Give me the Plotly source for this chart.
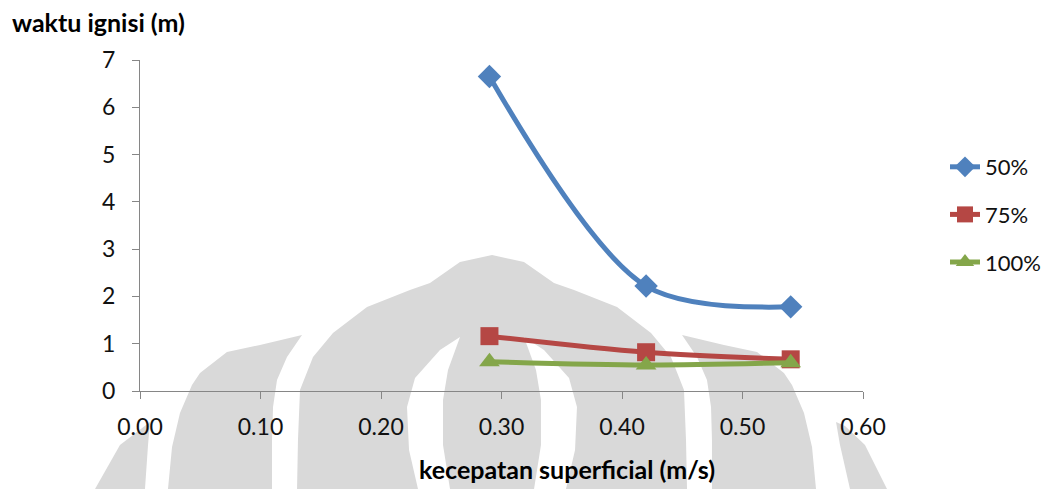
import plotly.graph_objects as go

# ---------------- data ----------------
x_vals = [0.29, 0.42, 0.54]
s50 = [6.65, 2.22, 1.78]
s75 = [1.16, 0.82, 0.67]
s100 = [0.62, 0.55, 0.60]
names = ["50%", "75%", "100%"]
x_tick_vals = [0, 0.1, 0.2, 0.3, 0.4, 0.5, 0.6]
x_tick_text = ["0.00", "0.10", "0.20", "0.30", "0.40", "0.50", "0.60"]
y_tick_vals = [0, 1, 2, 3, 4, 5, 6, 7]

# ---------------- styles ----------------
colors = ["#4F81BD", "#B54744", "#84A64A"]
symbols = ["diamond", "square", "triangle-up"]
msizes = [18, 18, 18]
series = [s50, s75, s100]

W, H = 1049, 489
ML, MR, MT, MB = 140, 186, 60, 98
PW, PH = W - ML - MR, H - MT - MB


def px(x, y):
    """pixel -> paper coordinates (for decoration only)"""
    return (x - ML) / PW, (H - MB - y) / PH


def path(points):
    pts = [px(x, y) for x, y in points]
    return "M " + " L ".join(f"{a:.4f},{b:.4f}" for a, b in pts) + " Z"


# background watermark (decoration, light grey logo behind the chart)
C = 492
def mirror(pts):
    return [(2 * C - x, y) for x, y in pts]

A = [(150, 422), (148, 445), (145, 489), (95, 489), (120, 445)]
E = [(836, 422), (845, 426), (865, 445), (887, 489), (850, 489), (840, 445)]
B = [(192, 385), (200, 373), (227, 352), (260, 345), (302, 335), (287, 357),
     (277, 380), (273, 407), (272, 440), (272, 489), (168, 489), (172, 447), (180, 413)]
D = mirror(B)
C_left = [(297, 489), (298, 440), (300, 390), (313, 357), (333, 333), (367, 307),
          (410, 290), (430, 283), (460, 262), (492, 255)]
C_outer = C_left + mirror(C_left[:-1])[::-1]
band_l = [(460, 337), (440, 350), (415, 378), (407, 407), (409, 450), (418, 489),
          (450, 489), (443, 445), (443, 400), (448, 370)]
band_r = mirror(band_l)

grey = "#D9D9D9"
shapes = []
for poly in [A, E, B, D, C_outer]:
    shapes.append(dict(type="path", path=path(poly), xref="paper", yref="paper",
                       fillcolor=grey, line=dict(width=0), layer="below"))
for poly in [band_l, band_r]:
    shapes.append(dict(type="path", path=path(poly), xref="paper", yref="paper",
                       fillcolor="white", line=dict(width=0), layer="below"))

fig = go.Figure()
for i, (nm, ys) in enumerate(zip(names, series)):
    fig.add_trace(go.Scatter(
        x=x_vals, y=ys, name=nm, mode="lines+markers",
        line=dict(color=colors[i], width=5, shape="spline", smoothing=0.9),
        marker=dict(symbol=symbols[i], size=msizes[i], color=colors[i]),
        legendgroup=str(i),
    ))

font_family = "Lato, 'Open Sans', sans-serif"
ax_common = dict(showgrid=False, zeroline=False, showline=True, linecolor="#868686",
                 linewidth=1.3, ticks="outside", ticklen=7, tickcolor="#868686",
                 tickwidth=1.3, tickfont=dict(size=23, color="#111111"))
tx, ty = px(10, 22)
xx, xy = px(567, 469)
fig.update_layout(
    width=W, height=H,
    margin=dict(l=ML, r=MR, t=MT, b=MB, autoexpand=False),
    plot_bgcolor="rgba(0,0,0,0)", paper_bgcolor="white",
    font=dict(family=font_family, size=22, color="black"),
    showlegend=True,
    legend=dict(xref="container", yref="container", x=945 / W, y=1 - 146 / H,
                xanchor="left", yanchor="top",
                font=dict(size=22, color="#111111"), tracegroupgap=16,
                bgcolor="rgba(0,0,0,0)"),
    xaxis=dict(range=[0, 0.6], tickvals=x_tick_vals, ticktext=x_tick_text,
               ticklabelstandoff=8, **ax_common),
    yaxis=dict(range=[0, 7], tickvals=y_tick_vals, ticklabelstandoff=12, **ax_common),
    shapes=shapes,
    annotations=[
        dict(text="<b>waktu ignisi (m)</b>", x=tx, y=ty, xref="paper", yref="paper",
             showarrow=False, xanchor="left", yanchor="middle", font=dict(size=25)),
        dict(text="<b>kecepatan superficial (m/s)</b>", x=xx, y=xy, xref="paper",
             yref="paper", showarrow=False, xanchor="center", yanchor="middle",
             font=dict(size=25)),
    ],
)
fig.write_html("out.html")
